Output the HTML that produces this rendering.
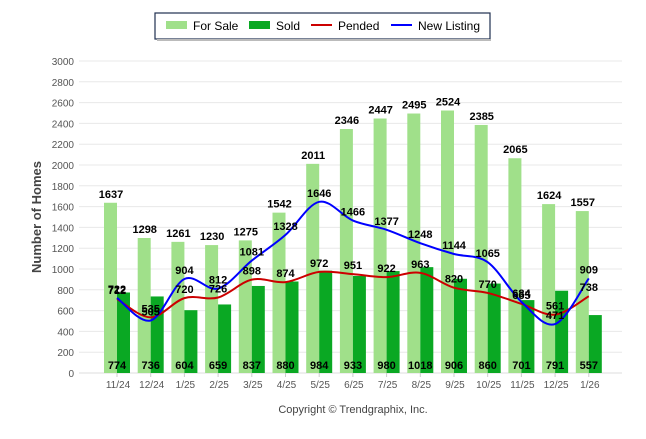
<!DOCTYPE html>
<html><head><meta charset="utf-8"><style>
body{margin:0;background:#fff;width:646px;height:434px;overflow:hidden;font-family:"Liberation Sans",sans-serif}
</style></head><body>
<svg id="s" width="646" height="434" xmlns="http://www.w3.org/2000/svg" font-family="Liberation Sans, sans-serif"></svg>
<script>
const cats=["11/24","12/24","1/25","2/25","3/25","4/25","5/25","6/25","7/25","8/25","9/25","10/25","11/25","12/25","1/26"];
const fs=[1637,1298,1261,1230,1275,1542,2011,2346,2447,2495,2524,2385,2065,1624,1557];
const sd=[774,736,604,659,837,880,984,933,980,1018,906,860,701,791,557];
const pe=[712,535,720,726,898,874,972,951,922,963,820,770,665,561,738];
const nl=[722,505,904,812,1081,1328,1646,1466,1377,1248,1144,1065,684,471,909];
const Y=v=>373-v*0.104, X=i=>117+i*33.7;
let h='';
h+=`<rect x="155" y="13" width="335" height="26" fill="#fff" stroke="#1f2f4f" stroke-width="1.2"/><line x1="157" y1="40" x2="491" y2="40" stroke="#bbb" stroke-width="2"/>`;
h+=`<rect x="166" y="21" width="21" height="8" fill="#a0e08a"/><text x="193" y="30" font-size="12">For Sale</text>`;
h+=`<rect x="249" y="21" width="21" height="8" fill="#0aa823"/><text x="276" y="30" font-size="12">Sold</text>`;
h+=`<line x1="311" y1="25" x2="332" y2="25" stroke="#c00" stroke-width="2"/><text x="338" y="30" font-size="12">Pended</text>`;
h+=`<line x1="391" y1="25" x2="412" y2="25" stroke="#00f" stroke-width="2"/><text x="418" y="30" font-size="12">New Listing</text>`;
for(let v=0;v<=3000;v+=200){const y=Y(v);h+=`<line x1="79" y1="${y}" x2="622" y2="${y}" stroke="#e8e8e8"/><text x="74" y="${y+4}" font-size="10" fill="#555" text-anchor="end">${v}</text>`;}
h+=`<line x1="79" y1="373" x2="622" y2="373" stroke="#ddd"/>`;
h+=`<text transform="translate(41,217) rotate(-90)" font-size="13" font-weight="bold" fill="#444" text-anchor="middle">Number of Homes</text>`;
cats.forEach((c,i)=>{const x=X(i);
h+=`<rect x="${x-13}" y="${Y(fs[i])}" width="13" height="${fs[i]*0.104}" fill="#a0e08a"/>`;
h+=`<rect x="${x}" y="${Y(sd[i])}" width="13" height="${sd[i]*0.104}" fill="#0aa823"/>`;
h+=`<text x="${x+1}" y="384" font-size="10" fill="#555" text-anchor="middle" dy="4">${c}</text>`;
h+=`<line x1="${x}" y1="373" x2="${x}" y2="377" stroke="#ccc"/>`;});
function path(a){const p=a.map((v,i)=>[X(i),Y(v)]);let d=`M${p[0][0]},${p[0][1]}`;
for(let i=0;i<p.length-1;i++){const p0=p[Math.max(0,i-1)],p1=p[i],p2=p[i+1],p3=p[Math.min(p.length-1,i+2)];
d+=` C${p1[0]+(p2[0]-p0[0])/6},${p1[1]+(p2[1]-p0[1])/6} ${p2[0]-(p3[0]-p1[0])/6},${p2[1]-(p3[1]-p1[1])/6} ${p2[0]},${p2[1]}`;}return d;}
h+=`<path d="${path(pe)}" fill="none" stroke="#c00" stroke-width="2"/>`;
h+=`<path d="${path(nl)}" fill="none" stroke="#00f" stroke-width="2"/>`;
const t=(x,y,s)=>`<text x="${x}" y="${y}" font-size="11" font-weight="bold" text-anchor="middle">${s}</text>`;
cats.forEach((c,i)=>{const x=X(i);
h+=t(x-6,Y(fs[i])-5,fs[i]);h+=t(x,369,sd[i]);
h+=t(x,Y(pe[i])-5,pe[i]);h+=t(x,Y(nl[i])-5,nl[i]);});
h+=`<text x="353" y="413" font-size="11" fill="#444" text-anchor="middle">Copyright © Trendgraphix, Inc.</text>`;
document.getElementById('s').innerHTML=h;
</script>
</body></html>
